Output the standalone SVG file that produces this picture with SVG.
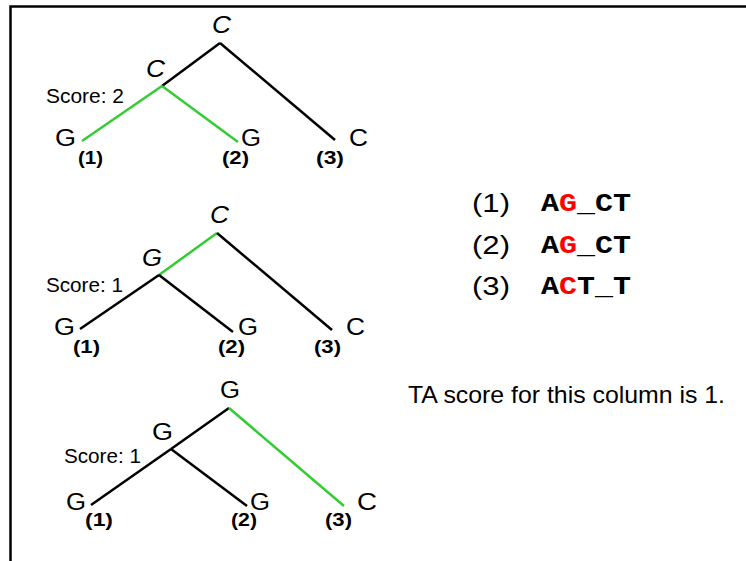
<svg xmlns="http://www.w3.org/2000/svg" width="746" height="561" viewBox="0 0 746 561">
<style>
.f{fill:none;stroke:#000;stroke-width:2.5}
.e{stroke:#000;stroke-width:2.5;fill:none}
.g{stroke:#33cc33;stroke-width:2.5;fill:none}
.n{font-family:"Liberation Sans",Arial,sans-serif;font-size:23px;fill:#000}
.ni{font-family:"Liberation Sans",Arial,sans-serif;font-size:23px;font-style:italic;fill:#000}
.s{font-family:"Liberation Sans",Arial,sans-serif;font-size:20.5px;fill:#000}
.b{font-family:"Liberation Sans",Arial,sans-serif;font-size:18px;font-weight:bold;fill:#000}
.r{font-family:"Liberation Sans",Arial,sans-serif;font-size:26px;fill:#000}
.m{font-family:"Liberation Mono","Courier New",monospace;font-size:26px;font-weight:bold;fill:#000}
.t{font-family:"Liberation Sans",Arial,sans-serif;font-size:24px;fill:#000}
.red{fill:#ff0000}
</style>
<path class="f" d="M10.5,561 V6.5 H746"/>
<g id="connectors">
<line class="e" x1="220" y1="43" x2="162" y2="86"/>
<line class="e" x1="220" y1="43" x2="335" y2="140"/>
<line class="g" x1="162" y1="86" x2="82" y2="141"/>
<line class="g" x1="162" y1="86" x2="238" y2="142"/>
<line class="g" x1="217" y1="233" x2="159" y2="275"/>
<line class="e" x1="217" y1="233" x2="332" y2="330"/>
<line class="e" x1="159" y1="275" x2="80" y2="329"/>
<line class="e" x1="159" y1="275" x2="233" y2="332"/>
<line class="e" x1="229" y1="408" x2="171" y2="449"/>
<line class="g" x1="229" y1="408" x2="344" y2="506"/>
<line class="e" x1="171" y1="449" x2="91" y2="505"/>
<line class="e" x1="171" y1="449" x2="247" y2="506"/>
</g>
<g id="tree1">
<text class="ni" x="212" y="33" textLength="19" lengthAdjust="spacingAndGlyphs">C</text>
<text class="ni" x="146" y="77" textLength="19" lengthAdjust="spacingAndGlyphs">C</text>
<text class="s" x="46" y="103" textLength="78" lengthAdjust="spacingAndGlyphs">Score: 2</text>
<text class="n" x="55" y="146" textLength="21" lengthAdjust="spacingAndGlyphs">G</text>
<text class="n" x="241" y="146" textLength="20" lengthAdjust="spacingAndGlyphs">G</text>
<text class="n" x="349" y="146" textLength="19" lengthAdjust="spacingAndGlyphs">C</text>
<text class="b" x="78" y="164" textLength="25" lengthAdjust="spacingAndGlyphs">(1)</text>
<text class="b" x="222" y="164" textLength="27" lengthAdjust="spacingAndGlyphs">(2)</text>
<text class="b" x="316" y="164" textLength="28" lengthAdjust="spacingAndGlyphs">(3)</text>
</g>
<g id="tree2">
<text class="ni" x="210" y="223" textLength="19" lengthAdjust="spacingAndGlyphs">C</text>
<text class="ni" x="142" y="266" textLength="20" lengthAdjust="spacingAndGlyphs">G</text>
<text class="s" x="46" y="292" textLength="77" lengthAdjust="spacingAndGlyphs">Score: 1</text>
<text class="n" x="54" y="335" textLength="21" lengthAdjust="spacingAndGlyphs">G</text>
<text class="n" x="238" y="335" textLength="20" lengthAdjust="spacingAndGlyphs">G</text>
<text class="n" x="346" y="335" textLength="19" lengthAdjust="spacingAndGlyphs">C</text>
<text class="b" x="73" y="353" textLength="27" lengthAdjust="spacingAndGlyphs">(1)</text>
<text class="b" x="218" y="353" textLength="27" lengthAdjust="spacingAndGlyphs">(2)</text>
<text class="b" x="314" y="353" textLength="27" lengthAdjust="spacingAndGlyphs">(3)</text>
</g>
<g id="tree3">
<text class="n" x="220" y="398" textLength="20" lengthAdjust="spacingAndGlyphs">G</text>
<text class="n" x="152" y="440" textLength="21" lengthAdjust="spacingAndGlyphs">G</text>
<text class="s" x="64" y="463" textLength="77" lengthAdjust="spacingAndGlyphs">Score: 1</text>
<text class="n" x="66" y="510" textLength="20" lengthAdjust="spacingAndGlyphs">G</text>
<text class="n" x="250" y="510" textLength="20" lengthAdjust="spacingAndGlyphs">G</text>
<text class="n" x="357" y="510" textLength="20" lengthAdjust="spacingAndGlyphs">C</text>
<text class="b" x="85" y="526" textLength="28" lengthAdjust="spacingAndGlyphs">(1)</text>
<text class="b" x="231" y="526" textLength="26" lengthAdjust="spacingAndGlyphs">(2)</text>
<text class="b" x="325" y="526" textLength="27" lengthAdjust="spacingAndGlyphs">(3)</text>
</g>
<g id="alignment">
<text class="r" x="472" y="212" textLength="38" lengthAdjust="spacingAndGlyphs">(1)</text>
<text class="m" x="541" y="211" textLength="90" lengthAdjust="spacingAndGlyphs">A<tspan class="red">G</tspan>_CT</text>
<text class="r" x="472" y="254" textLength="38" lengthAdjust="spacingAndGlyphs">(2)</text>
<text class="m" x="541" y="253" textLength="90" lengthAdjust="spacingAndGlyphs">A<tspan class="red">G</tspan>_CT</text>
<text class="r" x="472" y="295" textLength="38" lengthAdjust="spacingAndGlyphs">(3)</text>
<text class="m" x="541" y="294" textLength="90" lengthAdjust="spacingAndGlyphs">A<tspan class="red">C</tspan>T_T</text>
</g>
<g id="summary">
<text class="t" x="408" y="403" textLength="317" lengthAdjust="spacingAndGlyphs">TA score for this column is 1.</text>
</g>
</svg>
